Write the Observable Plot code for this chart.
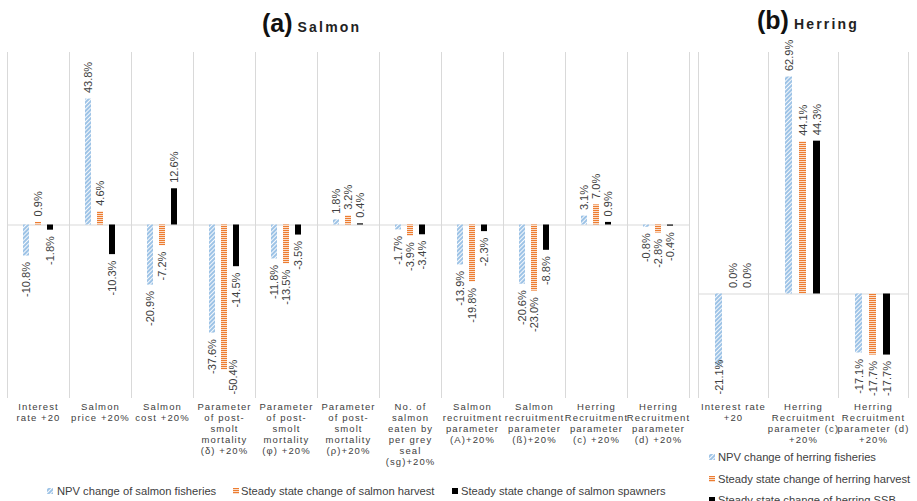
<!DOCTYPE html>
<html><head><meta charset="utf-8">
<script src="https://cdn.jsdelivr.net/npm/d3@7"></script>
<script src="https://cdn.jsdelivr.net/npm/@observablehq/plot@0.6"></script>
<style>
body{margin:0;background:#fff;font-family:"Liberation Sans",Arial,sans-serif;}
#wrap{position:relative;width:917px;height:501px;overflow:hidden;background:#fff;}
.panel{position:absolute;top:0;}
.panel g[aria-label="fx-axis tick label"] text{letter-spacing:1.1px;}
.title{position:absolute;font-weight:bold;font-size:25px;line-height:28px;color:#111;white-space:nowrap;}
.title span{font-size:14px;letter-spacing:2.2px;margin-left:5px;color:#222;}
.legtext{position:absolute;font-size:11.2px;color:#404040;white-space:nowrap;line-height:14px;}
.legsw{position:absolute;}
</style></head>
<body>
<svg width="0" height="0" style="position:absolute">
  <defs>
    <pattern id="pBlue" patternUnits="userSpaceOnUse" width="3" height="3" patternTransform="rotate(-45)">
      <rect width="3" height="3" fill="#9DC3E6"></rect>
      <rect width="3" height="0.9" fill="#ffffff"></rect>
    </pattern>
    <pattern id="pOrange" patternUnits="userSpaceOnUse" width="4" height="2">
      <rect width="4" height="2" fill="#ffffff"></rect>
      <rect width="4" height="1.25" fill="#ED7D31"></rect>
    </pattern>
  </defs>
</svg>
<div id="wrap">
  <div class="title" style="left:262px;top:9px">(a)<span>Salmon</span></div>
  <div class="title" style="left:757px;top:6px">(b)<span>Herring</span></div>
</div>
<script>
// ---- data ----
const seriesKeys = ["npv", "harvest", "stock"];

const salmonCategories = [
  "Interest\nrate +20",
  "Salmon\nprice +20%",
  "Salmon\ncost +20%",
  "Parameter\nof post-\nsmolt\nmortality\n(δ) +20%",
  "Parameter\nof post-\nsmolt\nmortality\n(φ) +20%",
  "Parameter\nof post-\nsmolt\nmortality\n(ρ)+20%",
  "No. of\nsalmon\neaten by\nper grey\nseal\n(sg)+20%",
  "Salmon\nrecruitment\nparameter\n(A)+20%",
  "Salmon\nrecruitment\nparameter\n(ß)+20%",
  "Herring\nRecruitment\nparameter\n(c) +20%",
  "Herring\nRecruitment\nparameter\n(d) +20%"
];
const salmonNPV      = [-10.8, 43.8, -20.9, -37.6, -11.8, 1.8, -1.7, -13.9, -20.6, 3.1, -0.8];
const salmonHarvest  = [0.9, 4.6, -7.2, -50.4, -13.5, 3.2, -3.9, -19.8, -23.0, 7.0, -2.8];
const salmonSpawners = [-1.8, -10.3, 12.6, -14.5, -3.5, 0.4, -3.4, -2.3, -8.8, 0.9, -0.4];
const salmonLegend = [
  "NPV change of salmon fisheries",
  "Steady state change of salmon harvest",
  "Steady state change of salmon spawners"
];

const herringCategories = [
  "Interest rate\n+20",
  "Herring\nRecruitment\nparameter (c)\n+20%",
  "Herring\nRecruitment\nparameter (d)\n+20%"
];
const herringNPV     = [-21.1, 62.9, -17.1];
const herringHarvest = [0.0, 44.1, -17.7];
const herringSSB     = [0.0, 44.3, -17.7];
const herringLegend = [
  "NPV change of herring fisheries",
  "Steady state change of herring harvest",
  "Steady state change of herring SSB"
];

// ---- helpers ----
const fills = ["url(#pBlue)", "url(#pOrange)", "#000000"];
function rows(cats, a, b, c) {
  const out = [];
  cats.forEach((cat, i) => {
    [a, b, c].forEach((arr, j) => out.push({cat, series: seriesKeys[j], value: arr[i]}));
  });
  return out;
}
const fmt = v => v.toFixed(1) + "%";

function panel(cats, data, yDomain, opts) {
  // a label that would run past the bottom of the plot area is kept inside it
  const plotH = 470 - 52 - 73;
  const unitsPerPx = (yDomain[1] - yDomain[0]) / plotH;
  const overflow = d => d.value < 0 && d.value - 40 * unitsPerPx < yDomain[0];
  return Plot.plot({
    width: opts.width, height: 470,
    marginTop: 52, marginBottom: 73, marginLeft: opts.ml, marginRight: opts.mr,
    style: {fontFamily: "Liberation Sans, Arial, sans-serif", background: "transparent", overflow: "visible"},
    fx: {domain: cats, padding: 0, axis: null},
    x: {domain: seriesKeys, paddingInner: opts.pi, paddingOuter: opts.po, axis: null},
    y: {domain: yDomain, axis: null},
    color: {domain: seriesKeys, range: fills},
    marks: [
      Plot.frame({anchor: "left", stroke: "#d9d9d9"}),
      Plot.frame({anchor: "right", stroke: "#d9d9d9"}),
      Plot.ruleY([0], {stroke: "#d9d9d9"}),
      Plot.barY(data, {fx: "cat", x: "series", y: "value", fill: "series"}),
      Plot.text(data.filter(d => d.value >= 0), {
        fx: "cat", x: "series", y: "value", text: d => fmt(d.value),
        rotate: -90, textAnchor: "start", dy: -6, fontSize: 11, fill: "#404040"
      }),
      Plot.text(data.filter(d => d.value < 0 && !overflow(d)), {
        fx: "cat", x: "series", y: "value", text: d => fmt(d.value),
        rotate: -90, textAnchor: "end", dy: 6, fontSize: 11, fill: "#404040"
      }),
      Plot.text(data.filter(overflow), {
        fx: "cat", x: "series", y: () => yDomain[0], text: d => fmt(d.value),
        rotate: -90, textAnchor: "start", dy: -3, dx: opts.clampDx, fontSize: 11, fill: "#404040"
      }),
      Plot.axisFx({anchor: "bottom", tickSize: 0, tickPadding: 5, fontSize: 9.5,
        lineHeight: 1.16, fill: "#404040", label: null})
    ]
  });
}

const wrap = document.getElementById("wrap");

const left = panel(salmonCategories, rows(salmonCategories, salmonNPV, salmonHarvest, salmonSpawners),
  [-60, 60], {width: 693, ml: 7, mr: 4, pi: 0.49, po: 1.18, clampDx: 9});
left.classList.add("panel");
left.style.left = "0px";
wrap.appendChild(left);

const right = panel(herringCategories, rows(herringCategories, herringNPV, herringHarvest, herringSSB),
  [-30, 70], {width: 224, ml: 4, mr: 8, pi: 0.47, po: 1.1, clampDx: 0});
right.classList.add("panel");
right.style.left = "693px";
wrap.appendChild(right);

// ---- legends ----
function legendItem(label, k, swX, textX, yc) {
  const ns = "http://www.w3.org/2000/svg";
  const sw = document.createElementNS(ns, "svg");
  sw.setAttribute("width", 6); sw.setAttribute("height", 6);
  sw.setAttribute("class", "legsw");
  sw.style.left = swX + "px"; sw.style.top = (yc - 3) + "px";
  const r = document.createElementNS(ns, "rect");
  r.setAttribute("width", 6); r.setAttribute("height", 6);
  r.setAttribute("fill", fills[k]);
  sw.appendChild(r);
  wrap.appendChild(sw);
  const t = document.createElement("div");
  t.className = "legtext";
  t.textContent = label;
  t.style.left = textX + "px"; t.style.top = (yc - 7) + "px";
  wrap.appendChild(t);
}
const leftSw = [47, 233, 452], leftTx = [57, 241, 461];
salmonLegend.forEach((s, i) => legendItem(s, i, leftSw[i], leftTx[i], 491));
const rightY = [457, 479, 500];
herringLegend.forEach((s, i) => legendItem(s, i, 709, 718, rightY[i]));
</script>
</body></html>
